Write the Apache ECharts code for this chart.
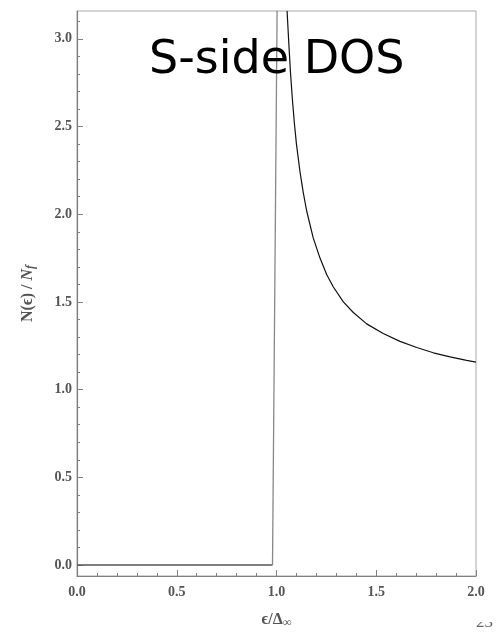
<!DOCTYPE html>
<html>
<head>
<meta charset="utf-8">
<script src="https://cdn.jsdelivr.net/npm/echarts@6/dist/echarts.min.js"></script>
<style>
  html, body { margin: 0; padding: 0; background: #fff; }
  #chart { width: 504px; height: 639px; }
</style>
</head>
<body>
<div id="chart"></div>
<script>
// Superconducting-side density of states, normalised to the normal-state value.
// Below the gap edge: zero; the edge rises steeply; above it the coherence peak decays.
const flatEnergy = [0.0, 0.98];
const flatDos = [0.0, 0.0];

const edgeEnergy = [0.98, 1.003];
const edgeDos = [0.0, 3.16];

const peakEnergy = [1.053, 1.06, 1.07, 1.08, 1.09, 1.10, 1.118, 1.134, 1.151, 1.184,
  1.218, 1.252, 1.285, 1.335, 1.385, 1.452, 1.535, 1.619, 1.703, 1.786, 1.870, 1.953, 2.0];
const peakDos = [3.16, 3.01, 2.81, 2.65, 2.515, 2.40, 2.24, 2.125, 2.02, 1.865,
  1.75, 1.655, 1.585, 1.50, 1.44, 1.375, 1.32, 1.275, 1.24, 1.21, 1.187, 1.167, 1.157];

const yMajorTicks = [0.0, 0.5, 1.0, 1.5, 2.0, 2.5, 3.0];
const yMinorTicks = [0.1, 0.2, 0.3, 0.4, 0.6, 0.7, 0.8, 0.9, 1.1, 1.2, 1.3, 1.4,
  1.6, 1.7, 1.8, 1.9, 2.1, 2.2, 2.3, 2.4, 2.6, 2.7, 2.8, 2.9, 3.1];

const Y_MIN = -0.0627;
const Y_MAX = 3.159;

const pairs = (xs, ys) => xs.map((x, i) => [x, ys[i]]);

const axisGray = '#808080';
const serif = "'Liberation Serif', 'DejaVu Serif', serif";
const labelStyle = {
  color: '#555',
  fontFamily: serif,
  fontWeight: 'bold',
  fontSize: 14
};

const chart = echarts.init(document.getElementById('chart'), null, { renderer: 'canvas' });

chart.setOption({
  animation: false,
  backgroundColor: '#fff',
  grid: {
    left: 77, right: 28, top: 11, bottom: 63,
    show: true, borderColor: '#aaa', borderWidth: 1, backgroundColor: 'transparent'
  },
  xAxis: {
    type: 'value',
    min: 0, max: 2, interval: 0.5,
    axisLine: { show: true, onZero: false, lineStyle: { color: axisGray, width: 1.2 } },
    axisTick: { show: true, inside: true, length: 6, lineStyle: { color: axisGray } },
    minorTick: { show: true, splitNumber: 5, length: 3, lineStyle: { color: axisGray } },
    splitLine: { show: false },
    axisLabel: Object.assign({ margin: 9, formatter: v => v.toFixed(1) }, labelStyle),
    name: '{a|ϵ/Δ}{s|∞}',
    nameLocation: 'middle',
    nameGap: 35,
    nameTextStyle: {
      rich: {
        a: { fontFamily: serif, fontSize: 16, color: '#555', fontWeight: 'bold' },
        s: { fontFamily: serif, fontSize: 12, color: '#555', fontWeight: 'bold', padding: [6, 0, 0, 0] }
      }
    }
  },
  yAxis: [
    {
      type: 'value',
      min: Y_MIN, max: Y_MAX,
      axisLine: { show: true, onZero: false, lineStyle: { color: axisGray, width: 1.2 } },
      axisTick: { show: true, inside: true, length: 6, customValues: yMajorTicks, lineStyle: { color: axisGray } },
      splitLine: { show: false },
      axisLabel: Object.assign({ margin: 5, customValues: yMajorTicks, formatter: v => v.toFixed(1) }, labelStyle),
      name: '{a|N(ϵ) / }{i|N}{s|f}',
      nameLocation: 'middle',
      nameGap: 40,
      nameRotate: 90,
      nameTextStyle: {
        rich: {
          a: { fontFamily: serif, fontSize: 16, color: '#555', fontWeight: 'bold' },
          i: { fontFamily: serif, fontSize: 16, color: '#555', fontWeight: 'bold', fontStyle: 'italic' },
          s: { fontFamily: serif, fontSize: 12, color: '#555', fontWeight: 'bold', fontStyle: 'italic', padding: [6, 0, 0, 0] }
        }
      }
    },
    {
      type: 'value',
      position: 'left',
      min: Y_MIN, max: Y_MAX,
      axisLine: { show: false },
      axisTick: { show: true, inside: true, length: 3, customValues: yMinorTicks, lineStyle: { color: axisGray } },
      axisLabel: { show: false },
      splitLine: { show: false }
    }
  ],
  series: [
    {
      name: 'gap',
      type: 'line',
      data: pairs(flatEnergy, flatDos),
      showSymbol: false,
      lineStyle: { color: '#555', width: 1.5 },
      clip: true
    },
    {
      name: 'edge',
      type: 'line',
      data: pairs(edgeEnergy, edgeDos),
      showSymbol: false,
      lineStyle: { color: '#888', width: 1.3 },
      clip: true
    },
    {
      name: 'coherence peak',
      type: 'line',
      data: pairs(peakEnergy, peakDos),
      showSymbol: false,
      smooth: false,
      lineStyle: { color: '#111', width: 1.2, join: 'round' },
      clip: true
    }
  ],
  graphic: [
    {
      type: 'text',
      left: 149, top: 38,
      style: {
        text: 'S-side DOS',
        fill: '#000',
        fontSize: 46,
        fontFamily: "'Comic Sans MS', 'DejaVu Sans', sans-serif"
      },
      z: 10
    },
    {
      type: 'text',
      left: 476, top: 614,
      style: {
        text: '23',
        fill: '#666',
        fontSize: 17,
        fontFamily: serif
      },
      z: 10
    },
    {
      type: 'rect',
      shape: { x: 470, y: 600, width: 34, height: 22 },
      style: { fill: '#fff' },
      z: 11
    }
  ]
});
</script>
</body>
</html>
